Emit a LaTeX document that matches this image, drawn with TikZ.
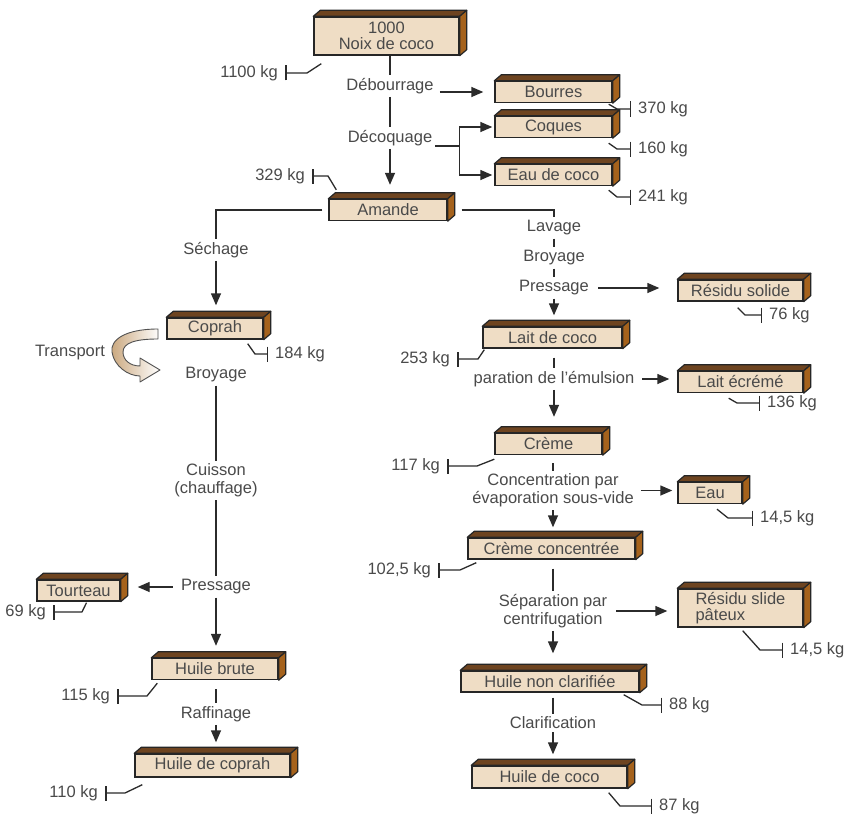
\documentclass[tikz,border=0pt]{standalone}
\usepackage{fontspec}
\setmainfont{Liberation Sans}
\usetikzlibrary{arrows.meta,calc}
\definecolor{frontc}{HTML}{EFDDC5}
\definecolor{topc}{HTML}{6E4420}
\definecolor{sidec}{HTML}{A5621C}
\definecolor{edge}{HTML}{262626}
\definecolor{txt}{HTML}{4A4A4A}
\definecolor{lc}{HTML}{2B2B2B}
\definecolor{ribbon}{HTML}{C9A67C}
\newcommand\cubefaces[1]{%
  \filldraw[topface] (#1.north west) -- ++(7,-6) -- ($(#1.north east)+(7,-6)$) -- (#1.north east) -- cycle;
  \filldraw[sideface] (#1.north east) -- ++(7,-6) -- ($(#1.south east)+(7,-6)$) -- (#1.south east) -- cycle;}
\begin{document}
\begin{tikzpicture}[x=1pt,y=-1pt,
  font=\fontsize{16.5}{18}\selectfont, text=txt,
  box/.style={draw=edge, line width=1.4pt, fill=frontc, inner sep=0pt, minimum height=21pt, align=center},
  lbl/.style={inner xsep=3pt, inner ysep=3pt, align=center},
  kgr/.style={inner xsep=7pt, inner ysep=1pt, anchor=west},
  kgl/.style={inner xsep=7pt, inner ysep=1pt, anchor=east},
  ln/.style={draw=lc, line width=1.4pt},
  arr/.style={ln, -{Triangle[length=12pt,width=10pt]}},
  leader/.style={ln, line width=1.3pt, line join=round, -{Bar[width=15pt,line width=1.5pt]}},
  topface/.style={fill=topc, draw=edge, line width=1.2pt, line join=round},
  sideface/.style={fill=sidec, draw=edge, line width=1.2pt, line join=round}]
\useasboundingbox[fill=white] (0,0) rectangle (844,816);

% ---------- boxes ----------
\node[box, minimum width=145pt, minimum height=38pt, font=\fontsize{16.5}{16}\selectfont] (noix) at (386.5,36) {1000\\Noix de coco};
\node[box, minimum width=117pt] (bourres) at (553.5,92) {Bourres};
\node[box, minimum width=117pt] (coques) at (553.5,127) {Coques};
\node[box, minimum width=117pt] (eaucoco) at (553.5,175) {Eau de coco};
\node[box, minimum width=118pt] (amande) at (388,210) {Amande};
\node[box, minimum width=96pt] (coprah) at (215,328.5) {Coprah};
\node[box, minimum width=83pt] (tourteau) at (78.5,590.5) {Tourteau};
\node[box, minimum width=126pt] (hbrute) at (215,669) {Huile brute};
\node[box, minimum width=155pt, minimum height=23pt] (hcoprah) at (212.5,765.5) {Huile de coprah};
\node[box, minimum width=125pt] (rsolide) at (740.5,290.5) {Résidu solide};
\node[box, minimum width=139pt] (lait) at (552.5,337.5) {Lait de coco};
\node[box, minimum width=125pt] (ecreme) at (740.5,382) {Lait écrémé};
\node[box, minimum width=107pt] (creme) at (548.5,444) {Crème};
\node[box, minimum width=64pt] (eau) at (710,493) {Eau};
\node[box, minimum width=167pt] (ccon) at (551.5,548.5) {Crème concentrée};
\node[box, minimum width=125pt, minimum height=38pt, align=left, font=\fontsize{16.5}{16}\selectfont] (rsp) at (740.5,608) {Résidu slide\\pâteux};
\node[box, minimum width=178pt] (hnc) at (550,681.5) {Huile non clarifiée};
\node[box, minimum width=155pt, minimum height=22pt] (hcoco) at (549.5,777) {Huile de coco};
\foreach \b in {noix,bourres,coques,eaucoco,amande,coprah,tourteau,hbrute,hcoprah,rsolide,lait,ecreme,creme,eau,ccon,rsp,hnc,hcoco}{\cubefaces{\b}}

% ---------- process labels ----------
\node[lbl] (deb) at (390,86) {Débourrage};
\node[lbl] (decoq) at (390,138) {Décoquage};
\node[lbl] (sech) at (216,250) {Séchage};
\node[lbl] (broy1) at (216,375) {Broyage};
\node[lbl] (cuis) at (216,480.5) {Cuisson\\(chauffage)};
\node[lbl] (press1) at (216,587) {Pressage};
\node[lbl] (raff) at (216,714) {Raffinage};
\node[lbl] (transport) at (70,353) {Transport};
\node[lbl] (lav) at (554,228) {Lavage};
\node[lbl] (broy2) at (554,258) {Broyage};
\node[lbl] (press2) at (554,288) {Pressage};
\node[lbl] (emul) at (554,379) {paration de l'émulsion};
\node[lbl] (conc) at (553,490.5) {Concentration par\\évaporation sous-vide};
\node[lbl] (sep) at (553,611) {Séparation par\\centrifugation};
\node[lbl] (clar) at (553,723) {Clarification};

% ---------- connectors ----------
\draw[ln] (deb |- noix.south) -- (deb.north);
\draw[ln] (deb) -- (decoq);
\draw[arr, shorten >=14pt] (decoq) -- (decoq |- amande.north);
\draw[arr, shorten <=3pt, shorten >=11pt] (deb.east |- bourres.west) -- (bourres.west);
\draw[ln] ($(decoq.east)+(0,8)$) -- ++(24,0) coordinate (br);
\draw[arr, shorten >=2pt] (br) |- (coques.west);
\draw[arr, shorten >=2pt] (br) |- (eaucoco.west);

\draw[ln] ($(amande.west)+(-6,0)$) -| (sech.north);
\draw[arr, shorten >=12pt] (sech) -- (sech |- coprah.north);
\draw[ln] (broy1) -- (cuis);
\draw[ln] (cuis) -- (cuis |- press1.north);
\draw[arr, shorten <=5pt, shorten >=17pt] (press1.west) -- (press1.west -| tourteau.east);
\draw[arr, shorten >=12pt] (press1) -- (press1 |- hbrute.north);
\draw[ln, shorten <=9pt] (raff |- hbrute.south) -- (raff);
\draw[arr, shorten >=11pt] (raff) -- (raff |- hcoprah.north);

\draw[ln] ($(amande.east)+(14,0)$) -| (lav.north);
\draw[ln] (lav) -- (broy2);
\draw[ln] (broy2) -- (press2);
\draw[arr, shorten >=11pt] (press2) -- (press2 |- lait.north);
\draw[arr, shorten <=6pt, shorten >=18pt] (press2.east) -- (press2.east -| rsolide.west);
\draw[ln, shorten <=9pt] (emul |- lait.south) -- (emul);
\draw[arr, shorten <=5pt, shorten >=8pt] (emul.east) -- (emul.east -| ecreme.west);
\draw[arr, shorten >=16pt] (emul) -- (emul |- creme.north);
\draw[ln, shorten <=8pt] (conc |- creme.south) -- (conc);
\draw[arr, shorten <=4pt, shorten >=5pt] (conc.east) -- (conc.east -| eau.west);
\draw[arr, shorten >=10pt] (conc) -- (conc |- ccon.north);
\draw[ln, shorten <=9pt] (sep |- ccon.south) -- (sep);
\draw[arr, shorten <=6pt, shorten >=10pt] (sep.east) -- (sep.east -| rsp.west);
\draw[arr, shorten >=17pt] (sep) -- (sep |- hnc.north);
\draw[ln, shorten <=5pt] (clar |- hnc.south) -- (clar);
\draw[arr, shorten >=11pt] (clar) -- (clar |- hcoco.north);

% ---------- transport ribbon ----------
\shade[left color=ribbon, right color=white, draw=edge!80, line width=0.9pt, line join=round]
  (158,329) .. controls (125,329) and (110,340) .. (112,352)
  .. controls (114,366) and (128,376) .. (140,376) -- (140,382) -- (160,370) -- (140,358) -- (140,366)
  .. controls (130,366) and (123,360) .. (123,352)
  .. controls (123,343) and (135,339) .. (158,339) -- cycle;

% ---------- masses ----------
\node[kgl] (k1100) at (285,73) {1100 kg};
\node[kgr] (k370) at (631,109) {370 kg};
\node[kgr] (k160) at (631,149) {160 kg};
\node[kgr] (k241) at (631,197) {241 kg};
\node[kgl] (k329) at (312,176) {329 kg};
\node[kgr] (k184) at (268,354) {184 kg};
\node[kgr] (k76) at (762,315) {76 kg};
\node[kgl] (k253) at (457,359) {253 kg};
\node[kgr] (k136) at (760,403) {136 kg};
\node[kgl] (k117) at (447,466) {117 kg};
\node[kgr] (k145a) at (753,518) {14,5 kg};
\node[kgl] (k1025) at (438,570) {102,5 kg};
\node[kgr] (k145b) at (783,650) {14,5 kg};
\node[kgr] (k88) at (662,705) {88 kg};
\node[kgr] (k87) at (652,806) {87 kg};
\node[kgl] (k69) at (53,612) {69 kg};
\node[kgl] (k115) at (117,696) {115 kg};
\node[kgl] (k110) at (105,793) {110 kg};

\draw[leader] ($(noix.south west)+(8,8)$) -- ($(k1100.east)+(22,0)$) -- (k1100.east);
\draw[leader] ($(bourres.south east)+(-4,1)$) -- ($(k370.west)+(-14,0)$) -- (k370.west);
\draw[leader] ($(coques.south east)+(-4,5)$) -- ($(k160.west)+(-14,0)$) -- (k160.west);
\draw[leader] ($(eaucoco.south east)+(-4,4)$) -- ($(k241.west)+(-14,0)$) -- (k241.west);
\draw[leader] ($(amande.north west)+(8,-9)$) -- ($(k329.east)+(16,0)$) -- (k329.east);
\draw[leader] ($(coprah.south east)+(-16,4)$) -- ($(k184.west)+(-13,0)$) -- (k184.west);
\draw[leader] ($(rsolide.south east)+(-66,6)$) -- ($(k76.west)+(-17,0)$) -- (k76.west);
\draw[leader] ($(lait.south west)+(2,1)$) -- ($(k253.east)+(21,0)$) -- (k253.east);
\draw[leader] ($(ecreme.south east)+(-75,5)$) -- ($(k136.west)+(-23,0)$) -- (k136.west);
\draw[leader] ($(creme.south west)+(0,4)$) -- ($(k117.east)+(30,0)$) -- (k117.east);
\draw[leader] ($(eau.south)+(7,5)$) -- ($(k145a.west)+(-25,0)$) -- (k145a.west);
\draw[leader] ($(ccon.south west)+(9,3)$) -- ($(k1025.east)+(22,0)$) -- (k1025.east);
\draw[leader] ($(rsp.south east)+(-61,3)$) -- ($(k145b.west)+(-23,0)$) -- (k145b.west);
\draw[leader] ($(hnc.south east)+(-16,2)$) -- ($(k88.west)+(-20,0)$) -- (k88.west);
\draw[leader] ($(hcoco.south east)+(-19,4)$) -- ($(k87.west)+(-32,0)$) -- (k87.west);
\draw[leader] ($(tourteau.south)+(8,1)$) -- ($(k69.east)+(29,0)$) -- (k69.east);
\draw[leader] ($(hbrute.south west)+(6,3)$) -- ($(k115.east)+(30,0)$) -- (k115.east);
\draw[leader] ($(hcoprah.south west)+(8,7)$) -- ($(k110.east)+(20,0)$) -- (k110.east);
\end{tikzpicture}
\end{document}
